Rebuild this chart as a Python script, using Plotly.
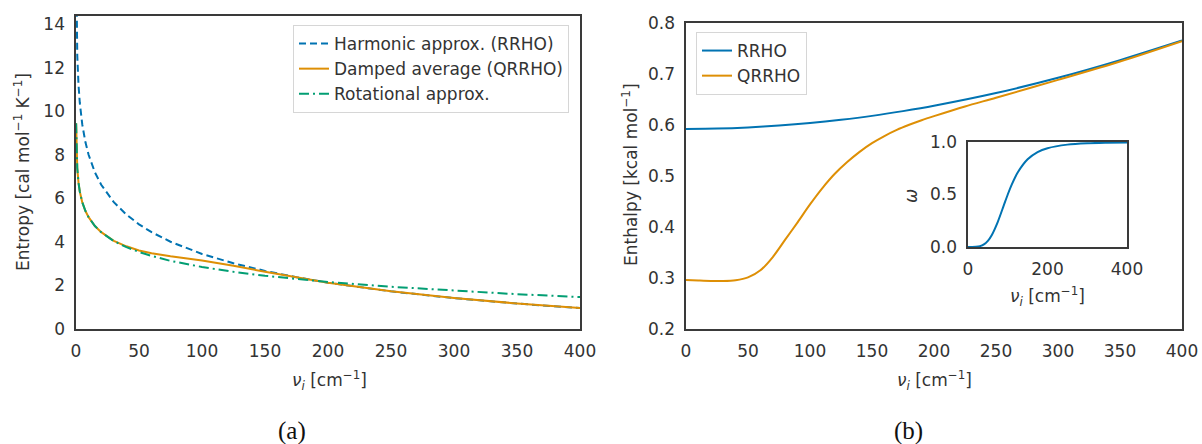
import plotly.graph_objects as go

# ---------------- data ----------------
nu_s = [0.1, 0.25, 0.5, 1, 2, 3, 5, 7.5, 10, 15, 20, 30, 40, 50, 60, 75,
        100, 125, 150, 175, 200, 250, 300, 350, 400]
S_harmonic = [17.2, 15.3, 13.96, 12.58, 11.21, 10.40, 9.39, 8.58, 8.01, 7.20,
              6.63, 5.83, 5.26, 4.81, 4.45, 4.01, 3.45, 3.02, 2.67, 2.38,
              2.13, 1.73, 1.42, 1.17, 0.96]
S_damped = [9.46, 8.70, 8.06, 7.40, 6.72, 6.32, 5.82, 5.42, 5.14, 4.73,
            4.45, 4.05, 3.80, 3.61, 3.485, 3.34, 3.15, 2.91, 2.63, 2.37,
            2.13, 1.735, 1.424, 1.173, 0.962]
S_rot = [9.46, 8.70, 8.06, 7.40, 6.72, 6.32, 5.82, 5.42, 5.14, 4.73,
         4.45, 4.04, 3.76, 3.54, 3.36, 3.13, 2.85, 2.63, 2.445, 2.29,
         2.16, 1.94, 1.76, 1.60, 1.47]

nu_h_rrho = [0, 25, 50, 75, 100, 125, 150, 175, 200, 250, 300, 350, 400]
H_rrho = [0.592, 0.5927, 0.5949, 0.5985, 0.6034, 0.6098, 0.6175, 0.6268,
          0.6373, 0.6622, 0.6921, 0.7266, 0.765]

nu_h_q = [0, 10, 20, 30, 40, 50, 60, 70, 80, 90, 100, 110, 120, 130, 140,
          150, 160, 170, 180, 190, 200, 225, 250, 300, 350, 400]
H_qrrho = [0.296, 0.2950, 0.2942, 0.2940, 0.2955, 0.3010, 0.3150, 0.3410,
           0.3750, 0.4090, 0.4440, 0.4760, 0.5040, 0.5270, 0.5470, 0.5640,
           0.5780, 0.5900, 0.6000, 0.6090, 0.6170, 0.6360, 0.6530, 0.6880,
           0.7240, 0.7640]

nu_w = [0, 10, 20, 30, 40, 50, 60, 75, 90, 100, 110, 125, 150, 175, 200,
        250, 300, 350, 400]
w_damp = [0.0, 0.0001, 0.0016, 0.008, 0.025, 0.059, 0.115, 0.24, 0.396, 0.5,
          0.594, 0.709, 0.835, 0.904, 0.941, 0.975, 0.988, 0.993, 0.996]

left_ticks_y = [0, 2, 4, 6, 8, 10, 12, 14]
right_ticks_y = [0.2, 0.3, 0.4, 0.5, 0.6, 0.7, 0.8]
ticks_x = [0, 50, 100, 150, 200, 250, 300, 350, 400]

# ---------------- style ----------------
BLUE = "#0173b2"
ORANGE = "#de8f05"
GREEN = "#029e73"
TXT = "#333333"
FRAME = "#3a3a3a"
FONT = "DejaVu Sans"
LW = 2
FS = 17

fig = go.Figure()

fig.add_trace(go.Scatter(x=nu_s, y=S_harmonic, mode="lines",
                         name="Harmonic approx. (RRHO)",
                         line=dict(color=BLUE, width=LW, dash="7px,4px"),
                         xaxis="x", yaxis="y", legend="legend"))
fig.add_trace(go.Scatter(x=nu_s, y=S_damped, mode="lines",
                         name="Damped average (QRRHO)",
                         line=dict(color=ORANGE, width=LW),
                         xaxis="x", yaxis="y", legend="legend"))
fig.add_trace(go.Scatter(x=nu_s, y=S_rot, mode="lines",
                         name="Rotational approx.",
                         line=dict(color=GREEN, width=LW, dash="10px,4px,2px,4px"),
                         xaxis="x", yaxis="y", legend="legend"))

fig.add_trace(go.Scatter(x=nu_h_rrho, y=H_rrho, mode="lines", name="RRHO",
                         line=dict(color=BLUE, width=LW, shape="spline", smoothing=0.8),
                         xaxis="x2", yaxis="y2", legend="legend2"))
fig.add_trace(go.Scatter(x=nu_h_q, y=H_qrrho, mode="lines", name="QRRHO",
                         line=dict(color=ORANGE, width=LW, shape="spline", smoothing=0.8),
                         xaxis="x2", yaxis="y2", legend="legend2"))

fig.add_trace(go.Scatter(x=nu_w, y=w_damp, mode="lines", showlegend=False,
                         line=dict(color=BLUE, width=LW, shape="spline", smoothing=0.8),
                         xaxis="x3", yaxis="y3"))

W, H = 1202, 444


def ax(domain, rng, tickvals, anchor, fmt=None):
    d = dict(domain=domain, range=rng, tickvals=tickvals, anchor=anchor,
             showline=True, mirror=True, linecolor=FRAME, linewidth=1.6,
             showgrid=False, zeroline=False, ticks="outside", ticklen=6,
             tickcolor="rgba(0,0,0,0)", tickfont=dict(family=FONT, size=FS, color=TXT),
             automargin=False, fixedrange=True)
    if fmt:
        d["tickformat"] = fmt
    return d


fig.update_layout(
    width=W, height=H, autosize=False,
    margin=dict(l=0, r=0, t=0, b=0),
    paper_bgcolor="white", plot_bgcolor="white",
    xaxis=ax([76 / W, 580 / W], [0, 400], ticks_x, "y"),
    yaxis=ax([1 - 329 / H, 1 - 15.7 / H], [0, 14.4], left_ticks_y, "x"),
    xaxis2=ax([686 / W, 1182 / W], [0, 400], ticks_x, "y2"),
    yaxis2=ax([1 - 329 / H, 1 - 22.7 / H], [0.2, 0.8], right_ticks_y, "x2", ".1f"),
    xaxis3=ax([968 / W, 1127 / W], [0, 400], [0, 200, 400], "y3"),
    yaxis3=ax([1 - 247 / H, 1 - 142 / H], [0, 1], [0, 0.5, 1.0], "x3", ".1f"),
    legend=dict(x=569 / W, y=1 - 25 / H, xanchor="right", yanchor="top",
                bgcolor="white", bordercolor="#d6d6d6", borderwidth=1,
                font=dict(family=FONT, size=FS, color=TXT), itemwidth=30),
    legend2=dict(x=696 / W, y=1 - 32 / H, xanchor="left", yanchor="top",
                 bgcolor="white", bordercolor="#d6d6d6", borderwidth=1,
                 font=dict(family=FONT, size=FS, color=TXT), itemwidth=30),
)

nu_label = "<i>ν</i><sub><i>i</i></sub> [cm<sup>−1</sup>]"
annots = [
    dict(x=329 / W, y=1 - 380 / H, text=nu_label, textangle=0),
    dict(x=934 / W, y=1 - 380 / H, text=nu_label, textangle=0),
    dict(x=1047 / W, y=1 - 296 / H, text=nu_label, textangle=0),
    dict(x=22 / W, y=1 - 172 / H, text="Entropy [cal mol<sup>−1</sup> K<sup>−1</sup>]",
         textangle=-90),
    dict(x=630 / W, y=1 - 175 / H, text="Enthalpy [kcal mol<sup>−1</sup>]",
         textangle=-90),
    dict(x=911 / W, y=1 - 196 / H, text="<i>ω</i>", textangle=-90),
]
for a in annots:
    fig.add_annotation(x=a["x"], y=a["y"], xref="paper", yref="paper",
                       text=a["text"], textangle=a["textangle"], showarrow=False,
                       xanchor="center", yanchor="middle",
                       font=dict(family=FONT, size=FS, color=TXT))

for txt, xp in [("(a)", 292), ("(b)", 908)]:
    fig.add_annotation(x=xp / W, y=1 - 431 / H, xref="paper", yref="paper",
                       text=txt, showarrow=False, xanchor="center", yanchor="middle",
                       font=dict(family="Liberation Serif", size=25, color="#111111"))

fig.write_html("out.html",
               config={"displayModeBar": False, "staticPlot": True},
               post_script="document.body.style.margin='0px';"
                           "document.body.style.overflow='hidden';")
